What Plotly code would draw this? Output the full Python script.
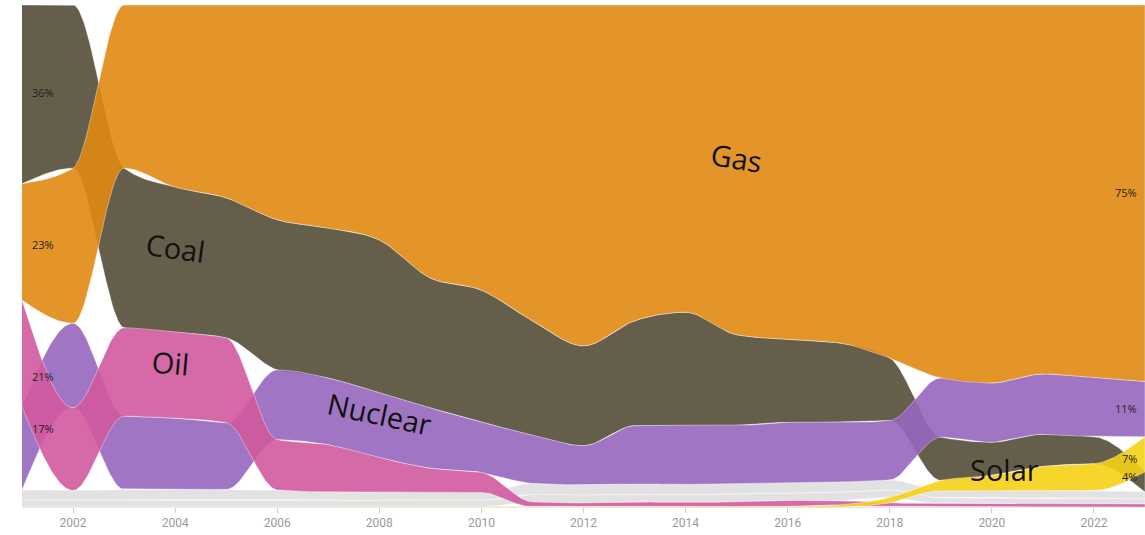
import numpy as np
import plotly.graph_objects as go

# ---------------- data (share of electricity, %) ----------------
years = list(range(2001, 2024))
gas = [23.2, 30.9, 32.5, 36.3, 38.4, 42.8, 44.4, 46.8, 54.4, 56.8, 62.9, 67.9,
       62.9, 61.2, 65.7, 66.7, 67.3, 70.3, 74.3, 75.3, 73.5, 74.1, 75.0]
coal = [35.6, 32.5, 31.8, 28.9, 27.9, 29.9, 29.9, 30.5, 25.9, 26.3, 22.8, 19.9,
        20.9, 22.5, 18.1, 16.5, 15.9, 12.5, 8.6, 6.6, 6.4, 5.4, 4.0]
oil = [21.2, 16.5, 17.6, 17.1, 16.9, 10.0, 9.4, 6.8, 4.8, 4.0, 1.0, 0.8,
       1.0, 0.9, 1.0, 1.2, 0.9, 0.8, 0.7, 0.7, 0.7, 0.7, 0.6]
nuclear = [16.6, 16.8, 14.6, 14.2, 13.3, 13.9, 13.3, 12.9, 12.0, 10.0, 9.6, 7.8,
           11.6, 11.8, 11.4, 12.0, 11.8, 11.8, 11.8, 11.8, 12.0, 11.8, 11.0]
solar = [0.0, 0.0, 0.0, 0.0, 0.0, 0.0, 0.0, 0.0, 0.0, 0.0, 0.0, 0.0,
         0.0, 0.0, 0.0, 0.1, 0.4, 1.1, 2.0, 3.0, 4.8, 5.3, 7.0]
hydro = [2.0, 1.9, 2.0, 2.0, 2.0, 1.9, 1.7, 1.7, 1.6, 1.6, 2.2, 2.1,
         2.1, 2.1, 2.2, 2.1, 2.1, 2.0, 1.5, 1.5, 1.5, 1.5, 1.4]
other = [1.4, 1.4, 1.5, 1.5, 1.5, 1.5, 1.3, 1.3, 1.3, 1.3, 1.5, 1.5,
         1.5, 1.5, 1.6, 1.5, 1.6, 1.5, 1.1, 1.1, 1.1, 1.1, 1.0]

tick_years = [2002, 2004, 2006, 2008, 2010, 2012, 2014, 2016, 2018, 2020, 2022]

# ---------------- styling ----------------
series = {"Hydro": hydro, "Other": other, "Coal": coal, "Nuclear": nuclear,
          "Oil": oil, "Gas": gas, "Solar": solar}
colors = {"Gas": (224, 137, 19), "Coal": (83, 76, 54), "Oil": (209, 89, 158),
          "Nuclear": (150, 103, 190), "Solar": (245, 209, 22),
          "Hydro": (223, 223, 223), "Other": (223, 223, 223)}
highlight = ["Gas", "Coal", "Oil", "Nuclear", "Solar"]
ALPHA = 0.9

# big in-band labels: (series, x position in years, angle)
big_labels = [("Gas", 2015.0, 9), ("Coal", 2004.0, 8), ("Oil", 2003.9, 5),
              ("Nuclear", 2008.0, 12), ("Solar", 2020.25, 0)]
LEFT_LABEL_X = 2001.16
RIGHT_LABEL_X = 2022.88


def monotone_tangents(xs, ys):
    xs = np.asarray(xs, float)
    ys = np.asarray(ys, float)
    h = np.diff(xs)
    s = np.diff(ys) / h
    m = len(xs)
    t = np.zeros(m)
    for i in range(1, m - 1):
        h0, h1, s0, s1 = h[i - 1], h[i], s[i - 1], s[i]
        p = (s0 * h1 + s1 * h0) / (h0 + h1)
        t[i] = (np.sign(s0) + np.sign(s1)) * min(abs(s0), abs(s1), 0.5 * abs(p))
    t[0] = (3 * s[0] - t[1]) / 2
    t[-1] = (3 * s[-1] - t[-2]) / 2
    return t


def monotone_eval(xs, ys, xq):
    xs = np.asarray(xs, float)
    ys = np.asarray(ys, float)
    t = monotone_tangents(xs, ys)
    xq = np.atleast_1d(np.asarray(xq, float))
    out = np.empty_like(xq)
    for k, x in enumerate(xq):
        i = int(np.clip(np.searchsorted(xs, x, side="right") - 1, 0, len(xs) - 2))
        h = xs[i + 1] - xs[i]
        u = (x - xs[i]) / h
        dx = h / 3
        p0, p1 = ys[i], ys[i] + dx * t[i]
        p2, p3 = ys[i + 1] - dx * t[i + 1], ys[i + 1]
        out[k] = ((1 - u) ** 3 * p0 + 3 * (1 - u) ** 2 * u * p1
                  + 3 * (1 - u) * u ** 2 * p2 + u ** 3 * p3)
    return out


names = list(series.keys())
vals = np.array([series[k] for k in names], float)
vals = vals / vals.sum(axis=0) * 100.0
S, N = vals.shape
tops = np.zeros_like(vals)
bots = np.zeros_like(vals)
for j in range(N):
    idx = sorted(range(S), key=lambda i: -vals[i, j])
    cum = 0.0
    for i in idx:
        tops[i, j] = 100 - cum
        cum += vals[i, j]
        bots[i, j] = 100 - cum

xf = np.linspace(years[0], years[-1], (len(years) - 1) * 40 + 1)

fig = go.Figure()
for name in names:
    i = names.index(name)
    top_f = monotone_eval(years, tops[i], xf)
    bot_f = monotone_eval(years, bots[i], xf)
    r, g, b = colors[name]
    fig.add_trace(go.Scatter(
        x=np.concatenate([xf, xf[::-1]]),
        y=np.concatenate([top_f, bot_f[::-1]]),
        fill="toself", mode="lines",
        fillcolor=f"rgba({r},{g},{b},{ALPHA})",
        line=dict(color="rgba(255,255,255,0.55)", width=0.7),
        hoverinfo="skip", showlegend=False, name=name))


def band_center(name, x):
    i = names.index(name)
    return float((monotone_eval(years, tops[i], x)[0] + monotone_eval(years, bots[i], x)[0]) / 2)


annotations = []
# big labels
for name, xp, ang in big_labels:
    annotations.append(dict(
        x=xp, y=band_center(name, xp), xref="x", yref="y", text=name,
        showarrow=False, textangle=ang, yshift=12,
        font=dict(family="Open Sans", size=29, color="#111111"),
        xanchor="center", yanchor="middle"))

# percentage labels at both ends
for name in highlight:
    i = names.index(name)
    v0 = vals[i, 0]
    if v0 >= 2:
        annotations.append(dict(
            x=LEFT_LABEL_X, y=band_center(name, LEFT_LABEL_X), xref="x", yref="y",
            text=f"{v0:.0f}%", showarrow=False, xanchor="left", yanchor="middle",
            font=dict(family="Open Sans", size=11, color="#222222")))
    v1 = vals[i, -1]
    if v1 >= 2:
        annotations.append(dict(
            x=RIGHT_LABEL_X, y=band_center(name, RIGHT_LABEL_X), xref="x", yref="y",
            text=f"{v1:.0f}%", showarrow=False, xanchor="right", yanchor="middle",
            font=dict(family="Open Sans", size=11, color="#222222")))

fig.update_layout(
    width=1145, height=535,
    margin=dict(l=22, r=0, t=5, b=28),
    paper_bgcolor="white", plot_bgcolor="white",
    annotations=annotations,
    xaxis=dict(range=[years[0], years[-1]], tickvals=tick_years,
               ticktext=[str(y) for y in tick_years],
               ticks="outside", ticklen=5, tickcolor="#cccccc",
               tickfont=dict(family="Roboto", size=12, color="#9a9a9a"),
               showgrid=False, zeroline=False, showline=True,
               linecolor="#e8e8e8", linewidth=1),
    yaxis=dict(range=[0, 100], visible=False, showgrid=False, zeroline=False),
)

fig.write_html("out.html", config={"displayModeBar": False},
               post_script="document.body.style.margin='0';")
